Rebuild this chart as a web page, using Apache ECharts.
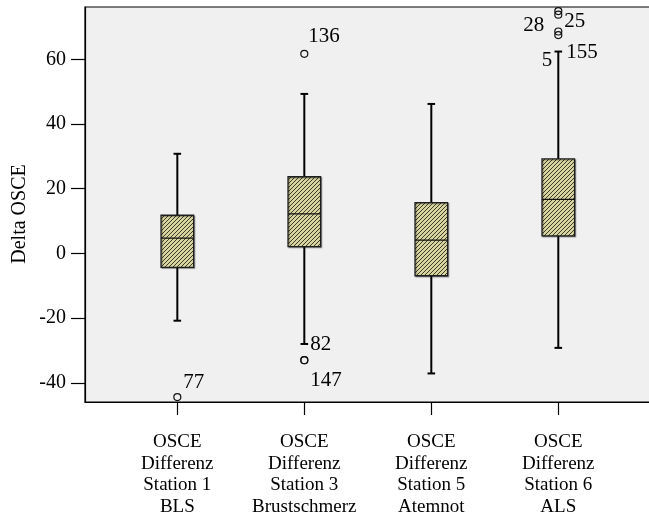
<!DOCTYPE html>
<html>
<head>
<meta charset="utf-8">
<script src="https://cdn.jsdelivr.net/npm/echarts@6/dist/echarts.min.js"></script>
<style>
  html, body { margin: 0; padding: 0; background: #fff; }
  #chart { width: 649px; height: 515px; }
</style>
</head>
<body>
<div id="chart"></div>
<script>
// Station names (x categories), one multi-line label each
const stations = [
  'OSCE\nDifferenz\nStation 1\nBLS',
  'OSCE\nDifferenz\nStation 3\nBrustschmerz',
  'OSCE\nDifferenz\nStation 5\nAtemnot',
  'OSCE\nDifferenz\nStation 6\nALS'
];

// Five-number summaries per station
const whiskerLow  = [-20.8, -28.0, -37.1, -29.2];
const quartile1   = [-4.3,   2.1,  -6.9,   5.4];
const medians     = [4.7,   12.2,   4.1,  16.7];
const quartile3   = [11.8,  23.7,  15.7,  29.2];
const whiskerHigh = [30.8,  49.3,  46.2,  62.4];

// Outlying cases: station index (0-based), value, case number
const outlierStation = [0, 1, 1, 1, 3, 3, 3, 3];
const outlierValue   = [-44.4, 61.7, -33.0, -33.0, 74.9, 73.8, 68.6, 67.5];
const outlierCase    = ['77', '136', '82', '147', '25', '28', '155', '5'];

// Y axis tick values
const yTicks = [-40, -20, 0, 20, 40, 60];

// Label placement of case numbers around their circles
const caseLabelPlacement = {
  '77':  { align: 'left',  dx: 6,   dy: -15 },
  '136': { align: 'left',  dx: 4,   dy: -17 },
  '82':  { align: 'left',  dx: 6,   dy: -16 },
  '147': { align: 'left',  dx: 6,   dy: 20 },
  '25':  { align: 'left',  dx: 6,   dy: 10 },
  '28':  { align: 'right', dx: -14, dy: 11 },
  '155': { align: 'left',  dx: 8,   dy: 21 },
  '5':   { align: 'right', dx: -6,  dy: 25 }
};

const FONT = '"Liberation Serif", "Times New Roman", serif';

// Hatched khaki fill for the boxes
function makeHatch() {
  const s = 4;
  const c = document.createElement('canvas');
  c.width = s; c.height = s;
  const g = c.getContext('2d');
  g.fillStyle = '#d8d4a0';
  g.fillRect(0, 0, s, s);
  g.strokeStyle = '#2b2a1e';
  g.lineWidth = 0.9;
  g.beginPath();
  g.moveTo(-1, s + 1); g.lineTo(s + 1, -1);
  g.moveTo(-1, 1); g.lineTo(1, -1);
  g.moveTo(s - 1, s + 1); g.lineTo(s + 1, s - 1);
  g.stroke();
  return c;
}
const hatch = makeHatch();

const boxData = stations.map((_, i) => [i + 1, whiskerLow[i], quartile1[i], medians[i], quartile3[i], whiskerHigh[i]]);

const outlierData = outlierValue.map((v, i) => {
  const p = caseLabelPlacement[outlierCase[i]];
  return {
    value: [outlierStation[i] + 1, v],
    label: {
      show: true,
      formatter: outlierCase[i],
      position: 'inside',
      align: p.align,
      verticalAlign: 'middle',
      offset: [p.dx, p.dy],
      color: '#000',
      textBorderWidth: 0,
      fontFamily: FONT,
      fontSize: 21
    }
  };
});

const chart = echarts.init(document.getElementById('chart'), null, { renderer: 'canvas' });

chart.setOption({
  animation: false,
  backgroundColor: '#ffffff',
  grid: {
    left: 85, top: 7, right: -2, bottom: 113,
    outerBoundsMode: 'none',
    containLabel: false,
    show: true,
    backgroundColor: '#f0f0f0',
    borderColor: '#000',
    borderWidth: 1.2
  },
  xAxis: {
    type: 'value',
    min: 0.273,
    max: 4.73,
    splitLine: { show: false },
    axisLine: { show: true, onZero: false, lineStyle: { color: '#000', width: 1.2 } },
    axisTick: {
      show: true, length: 13, customValues: [1, 2, 3, 4],
      lineStyle: { color: '#000', width: 1.2 }
    },
    axisLabel: {
      customValues: [1, 2, 3, 4],
      formatter: v => stations[Math.round(v) - 1] || '',
      color: '#000',
      fontFamily: FONT,
      fontSize: 19,
      lineHeight: 21.7,
      margin: 29,
      verticalAlign: 'top'
    }
  },
  yAxis: {
    type: 'value',
    min: -45.93,
    max: 76.17,
    splitLine: { show: false },
    axisLine: { show: true, onZero: false, lineStyle: { color: '#000', width: 1.2 } },
    axisTick: {
      show: true, length: 14, customValues: yTicks,
      lineStyle: { color: '#000', width: 1.2 }
    },
    axisLabel: {
      customValues: yTicks,
      color: '#000',
      fontFamily: FONT,
      fontSize: 20,
      margin: 19
    }
  },
  graphic: [{
    type: 'text',
    x: 20, y: 214,
    rotation: Math.PI / 2,
    style: {
      text: 'Delta OSCE',
      fill: '#000',
      font: '20px ' + FONT,
      align: 'center',
      verticalAlign: 'middle'
    }
  }],
  series: [
    {
      type: 'custom',
      data: boxData,
      encode: { x: 0, y: [1, 2, 3, 4, 5] },
      renderItem: function (params, api) {
        const x = api.value(0);
        const lo = api.coord([x, api.value(1)]);
        const q1 = api.coord([x, api.value(2)]);
        const md = api.coord([x, api.value(3)]);
        const q3 = api.coord([x, api.value(4)]);
        const hi = api.coord([x, api.value(5)]);
        const cx = lo[0];
        const hb = 16.3, hc = 3.8;
        const ls = { stroke: '#000', lineWidth: 2 };
        return {
          type: 'group',
          children: [
            { type: 'line', shape: { x1: cx, y1: lo[1], x2: cx, y2: q1[1] }, style: ls },
            { type: 'line', shape: { x1: cx, y1: q3[1], x2: cx, y2: hi[1] }, style: ls },
            { type: 'line', shape: { x1: cx - hc, y1: lo[1], x2: cx + hc, y2: lo[1] }, style: ls },
            { type: 'line', shape: { x1: cx - hc, y1: hi[1], x2: cx + hc, y2: hi[1] }, style: ls },
            {
              type: 'rect',
              shape: { x: cx - hb, y: q3[1], width: hb * 2, height: q1[1] - q3[1] },
              style: {
                fill: { image: hatch, repeat: 'repeat' },
                stroke: '#1e1e1e', lineWidth: 1.3,
                shadowColor: 'rgba(0,0,0,0.35)', shadowOffsetX: 1, shadowOffsetY: 1, shadowBlur: 1
              }
            },
            { type: 'line', shape: { x1: cx - hb, y1: md[1], x2: cx + hb, y2: md[1] }, style: { stroke: '#111', lineWidth: 1.3 } }
          ]
        };
      }
    },
    {
      type: 'scatter',
      data: outlierData,
      symbol: 'circle',
      symbolSize: 7,
      itemStyle: { color: 'rgba(0,0,0,0)', borderColor: '#111', borderWidth: 1.2, opacity: 1 },
      emphasis: { disabled: true },
      z: 3
    }
  ]
});
</script>
</body>
</html>
